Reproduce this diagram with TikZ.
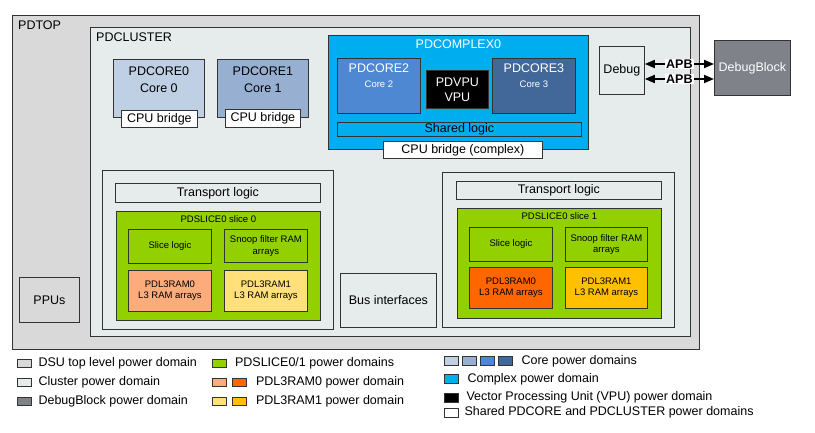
\documentclass[tikz,border=0pt]{standalone}
\usepackage{fontspec}
\setmainfont{Liberation Sans}
\usetikzlibrary{arrows.meta,positioning}

\definecolor{toplvl}{HTML}{D9D9D9}
\definecolor{clust}{HTML}{E6EBEB}
\definecolor{dbgblk}{HTML}{7F8389}
\definecolor{coreA}{HTML}{C0D0E4}
\definecolor{coreB}{HTML}{97B0D2}
\definecolor{coreC}{HTML}{4F88D2}
\definecolor{coreD}{HTML}{42689A}
\definecolor{cplx}{HTML}{00AEEF}
\definecolor{slicegr}{HTML}{92D000}
\definecolor{ramAlt}{HTML}{FBAC7A}
\definecolor{ramAdk}{HTML}{FF6600}
\definecolor{ramBlt}{HTML}{FFE07A}
\definecolor{ramBdk}{HTML}{FFC000}
\definecolor{edge}{HTML}{333333}

\begin{document}
\begin{tikzpicture}[x=1pt,y=-1pt,
    font=\fontsize{12.5}{15}\selectfont,
    pd/.style={draw=edge,line width=0.8pt,anchor=north west,inner sep=0pt,align=center},
    small/.style={font=\fontsize{9.5}{11.5}\selectfont},
    lbl/.style={anchor=north,align=center,inner sep=0pt},
    corner/.style={anchor=north west,inner sep=6pt},
    key/.style={draw=edge,line width=0.7pt,minimum width=14,minimum height=8,inner sep=0pt},
    keytext/.style={anchor=west,inner sep=0pt},
    apb/.style={{Triangle[length=10pt,width=8pt]}-{Triangle[length=10pt,width=8pt]},line width=1.8pt},
    apblbl/.style={fill=white,inner sep=1pt,font=\bfseries\fontsize{12.5}{14}\selectfont}]
\useasboundingbox (0,0) rectangle (815,433);

% power domain boxes
\node[pd,fill=toplvl,minimum width=687,minimum height=334,
      label={[corner]north west:PDTOP}] (pdtop) at (12,15) {};
\node[pd,fill=clust,minimum width=600,minimum height=309,
      label={[corner]north west:PDCLUSTER}] (pdcluster) at (90,27) {};
\node[pd,fill=toplvl,minimum width=60,minimum height=45] (ppus) at (19,277) {PPUs};

% cores 0 and 1
\node[pd,fill=coreA,minimum width=91,minimum height=58,
      label={[lbl,yshift=-8,font=\fontsize{12.5}{16.5}\selectfont]north:{PDCORE0\\Core 0}}] (core0) at (113,59) {};
\node[pd,fill=white,minimum width=76,minimum height=17] (bridge0) at (121,110) {CPU bridge};
\node[pd,fill=coreB,minimum width=91,minimum height=58,
      label={[lbl,yshift=-8,font=\fontsize{12.5}{16.5}\selectfont]north:{PDCORE1\\Core 1}}] (core1) at (217,59) {};
\node[pd,fill=white,minimum width=75,minimum height=18] (bridge1) at (225,109) {CPU bridge};

% complex
\node[pd,fill=cplx,minimum width=260,minimum height=114,
      label={[lbl,yshift=-5,text=white]north:PDCOMPLEX0}] (complex) at (328,35) {};
\node[pd,fill=coreC,minimum width=83,minimum height=55,
      label={[lbl,yshift=-6,text=white]north:PDCORE2},
      label={[lbl,small,yshift=-23,text=white]north:Core 2}] (core2) at (337,58) {};
\node[pd,fill=black,text=white,minimum width=62,minimum height=38] (vpu) at (426,70) {PDVPU\\VPU};
\node[pd,fill=coreD,minimum width=83,minimum height=55,
      label={[lbl,yshift=-6,text=white]north:PDCORE3},
      label={[lbl,small,yshift=-23,text=white]north:Core 3}] (core3) at (492,58) {};
\node[pd,fill=cplx,minimum width=244,minimum height=14] (shared) at (337,122) {Shared logic};
\node[pd,fill=white,minimum width=159,minimum height=17] (bridgec) at (383,141) {CPU bridge (complex)};

% debug
\node[pd,fill=clust,minimum width=45,minimum height=48] (debug) at (599,46) {Debug};
\node[pd,fill=dbgblk,text=white,minimum width=76,minimum height=55] (dbgblock) at (714,40) {DebugBlock};
\coordinate (apbA) at (0,64);
\coordinate (apbB) at (0,79);
\draw[apb] (debug.east |- apbA) -- (dbgblock.west |- apbA) node[midway,apblbl] {APB};
\draw[apb] (debug.east |- apbB) -- (dbgblock.west |- apbB) node[midway,apblbl] {APB};

% slice 0
\node[pd,fill=clust,minimum width=231,minimum height=159] (l3left) at (102,170) {};
\node[pd,fill=clust,minimum width=205,minimum height=19] (transport0) at (115,183) {Transport logic};
\node[pd,fill=slicegr,minimum width=204,minimum height=109,
      label={[lbl,small,yshift=-4]north:PDSLICE0 slice 0}] (slice0) at (116,211) {};
\node[pd,small,fill=slicegr,minimum width=83,minimum height=34] (slicelogic0) at (128,229) {Slice logic};
\node[pd,small,fill=slicegr,minimum width=83,minimum height=33] (snoop0) at (224,229) {Snoop filter RAM\\arrays};
\node[pd,small,fill=ramAlt,minimum width=83,minimum height=41] (ramA0) at (128,270) {PDL3RAM0\\L3 RAM arrays};
\node[pd,small,fill=ramBlt,minimum width=83,minimum height=41] (ramB0) at (224,270) {PDL3RAM1\\L3 RAM arrays};

\node[pd,fill=clust,minimum width=96,minimum height=54] (busif) at (340,273) {Bus interfaces};

% slice 1
\node[pd,fill=clust,minimum width=232,minimum height=155] (l3right) at (442,172) {};
\node[pd,fill=clust,minimum width=205,minimum height=18] (transport1) at (456,181) {Transport logic};
\node[pd,fill=slicegr,minimum width=204,minimum height=110,
      label={[lbl,small,yshift=-4]north:PDSLICE0 slice 1}] (slice1) at (457,208) {};
\node[pd,small,fill=slicegr,minimum width=83,minimum height=34] (slicelogic1) at (469,227) {Slice logic};
\node[pd,small,fill=slicegr,minimum width=82,minimum height=34] (snoop1) at (565,227) {Snoop filter RAM\\arrays};
\node[pd,small,fill=ramAdk,minimum width=83,minimum height=41] (ramA1) at (469,267) {PDL3RAM0\\L3 RAM arrays};
\node[pd,small,fill=ramBdk,minimum width=82,minimum height=41] (ramB1) at (565,267) {PDL3RAM1\\L3 RAM arrays};

% key
\node[key,fill=toplvl] (kTop) at (24,363) {};
\node[keytext,right=7pt of kTop] (tTop) {DSU top level power domain};
\node[key,fill=clust] (kClu) at (24,382) {};
\node[keytext,right=7pt of kClu] (tClu) {Cluster power domain};
\node[key,fill=dbgblk] (kDbg) at (24,401) {};
\node[keytext,right=7pt of kDbg] (tDbg) {DebugBlock power domain};

\node[key,fill=slicegr] (kSlice) at (219.5,363) {};
\node[keytext,right=8pt of kSlice] (tSlice) {PDSLICE0/1 power domains};
\node[key,fill=ramAlt] (kRamA) at (219.5,382) {};
\node[key,fill=ramAdk] (kRamAd) at (239.5,382) {};
\node[keytext,right=9pt of kRamAd] (tRamA) {PDL3RAM0 power domain};
\node[key,fill=ramBlt] (kRamB) at (219.5,401) {};
\node[key,fill=ramBdk] (kRamBd) at (239.5,401) {};
\node[keytext,right=9pt of kRamBd] (tRamB) {PDL3RAM1 power domain};

\node[key,minimum height=9,fill=coreA] (kCoreA) at (451,361) {};
\node[key,minimum height=9,fill=coreB] (kCoreB) at (469,361) {};
\node[key,minimum height=9,fill=coreC] (kCoreC) at (487,361) {};
\node[key,minimum height=9,fill=coreD] (kCoreD) at (505,361) {};
\node[keytext,right=9pt of kCoreD] (tCore) {Core power domains};
\node[key,minimum height=9,fill=cplx] (kCplx) at (451,379) {};
\node[keytext,right=9pt of kCplx] (tCplx) {Complex power domain};
\node[key,minimum height=9,fill=black] (kVpu) at (451,397.5) {};
\node[keytext,right=8pt of kVpu] (tVpu) {Vector Processing Unit (VPU) power domain};
\node[key,minimum height=9,fill=white] (kShared) at (451,412.5) {};
\node[keytext,right=6pt of kShared] (tShared) {Shared PDCORE and PDCLUSTER power domains};
\end{tikzpicture}
\end{document}
